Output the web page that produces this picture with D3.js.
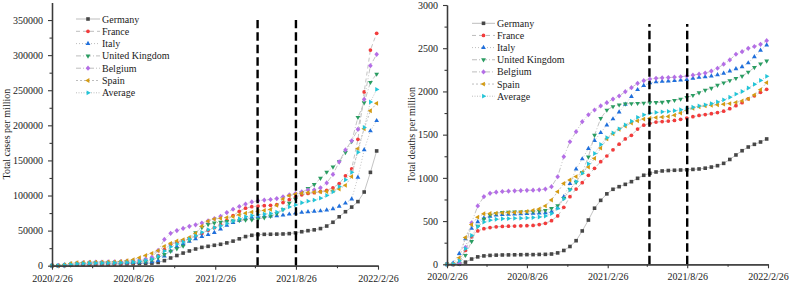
<!DOCTYPE html>
<html lang="en">
<head>
<meta charset="UTF-8">
<title>Total cases and deaths per million</title>
<script src="https://d3js.org/d3.v7.min.js"></script>
<style>
    body { margin: 0; background: #fff; }
    svg text { font-family: "Liberation Serif", "Times New Roman", serif; fill: #1a1a1a; }
</style>
</head>
<body>
<script>
    // categories / ticks
    var countries = ["Germany", "France", "Italy", "United Kingdom", "Belgium", "Spain", "Average"];
    var firstDate = "2020/2/26";   // points every 14 days from here
    var stepDays = 14;
    var xTicks = ["2020/2/26", "2020/8/26", "2021/2/26", "2021/8/26", "2022/2/26"];
    var xMinorTicks = ["2020/5/26", "2020/11/26", "2021/5/26", "2021/11/26"];
    var periodLines = ["2021/6/1", "2021/8/26"];

    // total cases per million
    var casesGermany = [0, 23, 445, 1300, 1800, 2000, 2130, 2200, 2260, 2340, 2400, 2500, 2630, 2850, 3050, 3320, 3680, 4570, 7200, 11000, 14500, 18000, 21000, 23800, 26100, 27600, 29100, 30500, 32500, 35000, 38300, 41500, 43300, 44300, 44700, 44800, 45000, 45200, 45700, 46900, 48400, 49900, 51100, 52900, 56500, 61900, 69700, 76900, 83500, 91300, 105000, 133000, 163500];
    var casesFrance = [0, 30, 380, 1200, 1750, 2000, 2200, 2300, 2400, 2500, 2650, 2800, 3200, 4000, 5300, 7300, 10000, 14500, 23000, 30500, 33300, 35600, 38500, 42000, 46000, 50500, 54200, 58600, 64500, 71500, 77500, 82000, 84000, 85000, 85500, 86000, 87000, 90000, 94000, 98000, 101000, 103000, 104000, 105500, 107500, 111000, 117000, 128000, 138000, 180000, 247500, 307300, 331100];
    var casesItaly = [7, 206, 1230, 2300, 3100, 3550, 3760, 3870, 3940, 3990, 4030, 4090, 4170, 4370, 4640, 5010, 5530, 7190, 13660, 21070, 27180, 31260, 34500, 38130, 41410, 44180, 47160, 52140, 57360, 61260, 64420, 67220, 68920, 69830, 70260, 70530, 70930, 71990, 73370, 74810, 75840, 76800, 77400, 78000, 79300, 81100, 84600, 89100, 95000, 126000, 165000, 192000, 206600];
    var casesUK = [0, 7, 140, 900, 1960, 2950, 3640, 4110, 4300, 4400, 4450, 4520, 4650, 4850, 5230, 6010, 8000, 11600, 16130, 20700, 24340, 28000, 36500, 47100, 54600, 58700, 60900, 62200, 63200, 63900, 64500, 65000, 65400, 66500, 68500, 70500, 74000, 80000, 89000, 95000, 104100, 110000, 115800, 124600, 133400, 140800, 148100, 161300, 177000, 211400, 232200, 261300, 273100];
    var casesBelgium = [0, 27, 430, 2040, 3640, 4420, 4870, 5100, 5240, 5360, 5500, 5910, 6520, 7210, 8030, 9390, 12170, 21740, 37390, 46090, 50000, 53040, 56090, 58260, 60870, 63910, 66960, 70430, 75650, 80430, 84350, 87830, 90870, 92610, 93480, 94350, 95650, 98260, 100870, 103040, 105220, 107830, 108000, 111000, 118000, 130000, 148000, 165000, 178000, 194300, 237100, 285000, 301200];
    var casesSpain = [0, 45, 1000, 3130, 4400, 4650, 4890, 5070, 5160, 5270, 5440, 5960, 7120, 8550, 11460, 14630, 17640, 21430, 27550, 31860, 35230, 37130, 40300, 45990, 56330, 63500, 66460, 67510, 68570, 70040, 72570, 74890, 76370, 77640, 78690, 80170, 86080, 94940, 99790, 101900, 103380, 104220, 104850, 105270, 105700, 106750, 109280, 114560, 127000, 166700, 195000, 220800, 231400];
    var casesAverage = [1, 56, 604, 1812, 2775, 3262, 3582, 3775, 3883, 3977, 4078, 4297, 4715, 5305, 6285, 7610, 9503, 13505, 20822, 26870, 30758, 33838, 37815, 42547, 47552, 51398, 54130, 56897, 60297, 63688, 66940, 69740, 71477, 72647, 73522, 74392, 76443, 80065, 83788, 86608, 89657, 91958, 93525, 96212, 100067, 105258, 112780, 122477, 133083, 161617, 196967, 233233, 251150];

    // total deaths per million
    var deathsGermany = [0, 0, 2.5, 25, 61, 86, 97, 103, 106, 108, 109, 110, 111, 112, 112, 114, 115, 119, 132, 160, 206, 273, 386, 512, 649, 740, 815, 868, 898, 925, 956, 995, 1030, 1053, 1068, 1080, 1085, 1088, 1091, 1094, 1098, 1103, 1112, 1125, 1141, 1168, 1213, 1265, 1314, 1357, 1388, 1415, 1450];
    var deathsFrance = [0, 0, 20, 161, 317, 386, 412, 425, 433, 438, 441, 443, 445, 447, 450, 460, 474, 505, 559, 659, 782, 871, 944, 1030, 1111, 1187, 1253, 1325, 1390, 1450, 1493, 1565, 1610, 1631, 1645, 1652, 1657, 1665, 1677, 1692, 1708, 1722, 1732, 1742, 1755, 1772, 1800, 1835, 1870, 1915, 1950, 1990, 2025];
    var deathsItaly = [0, 14, 124, 293, 415, 491, 535, 556, 570, 576, 579, 582, 583, 587, 589, 593, 596, 610, 652, 782, 933, 1102, 1219, 1339, 1431, 1523, 1610, 1682, 1761, 1850, 1941, 2020, 2067, 2100, 2110, 2116, 2120, 2124, 2130, 2138, 2151, 2162, 2169, 2177, 2192, 2210, 2235, 2262, 2285, 2330, 2400, 2475, 2537];
    var deathsUK = [0, 0, 7, 104, 265, 441, 523, 570, 590, 600, 603, 606, 607, 609, 610, 614, 623, 648, 680, 764, 866, 950, 1063, 1243, 1494, 1688, 1785, 1825, 1845, 1855, 1860, 1863, 1866, 1870, 1872, 1875, 1884, 1897, 1912, 1930, 1955, 1985, 2015, 2038, 2073, 2100, 2126, 2152, 2176, 2224, 2277, 2320, 2352];
    var deathsBelgium = [0, 0, 11, 195, 481, 675, 782, 821, 835, 842, 846, 850, 853, 856, 858, 862, 870, 898, 1013, 1245, 1418, 1534, 1650, 1730, 1785, 1832, 1870, 1912, 1947, 1997, 2043, 2094, 2124, 2144, 2152, 2157, 2160, 2165, 2170, 2178, 2188, 2200, 2212, 2235, 2268, 2315, 2364, 2430, 2460, 2499, 2520, 2545, 2587];
    var deathsSpain = [0, 1, 75, 310, 460, 545, 585, 588, 592, 596, 598, 600, 604, 612, 625, 640, 675, 744, 840, 935, 975, 1015, 1065, 1125, 1225, 1345, 1450, 1510, 1560, 1600, 1635, 1660, 1680, 1690, 1698, 1703, 1710, 1725, 1750, 1780, 1805, 1822, 1832, 1840, 1846, 1853, 1860, 1873, 1890, 1915, 1960, 2020, 2101];
    var deathsAverage = [0, 2.5, 40, 181, 333, 437, 489, 510, 521, 527, 529, 532, 534, 537, 541, 547, 559, 587, 646, 757, 863, 957, 1054, 1163, 1282, 1386, 1464, 1520, 1567, 1613, 1655, 1700, 1729, 1748, 1757, 1764, 1769, 1777, 1788, 1802, 1817, 1832, 1845, 1859, 1879, 1903, 1933, 1969, 1999, 2040, 2082, 2127, 2175];

    var colors = ["#474747", "#f23c3c", "#1f6fdc", "#2a9d62", "#b46ee6", "#d49b12", "#22c5d8"];
    var shapes = ["square", "circle", "up", "down", "diamond", "left", "right"];
    var dashes = [null, "4,3", "1,2", "5,2,1,2", "5,2,1,2,1,2", "2,2", "1,1.5"];

    var width = 790, height = 284;
    var parse = d3.timeParse("%Y/%m/%d");
    var start = parse(firstDate);

    var svg = d3.select("body").append("svg")
        .attr("width", width)
        .attr("height", height)
        .attr("viewBox", [0, 0, width, height]);

    function shapePath(shape) {
        if (shape == "square") return "M-1.8,-1.8h3.6v3.6h-3.6Z";
        if (shape == "circle") return d3.symbol(d3.symbolCircle, 11)();
        if (shape == "diamond") return "M0,-2.6L2.3,0L0,2.6L-2.3,0Z";
        return d3.symbol(d3.symbolTriangle, 10)();
    }

    function shapeRotate(shape) {
        if (shape == "down") return 180;
        if (shape == "left") return -90;
        if (shape == "right") return 90;
        return 0;
    }

    function drawMarker(g, i, cx, cy) {
        g.append("path")
            .attr("d", shapePath(shapes[i]))
            .attr("transform", "translate(" + cx + "," + cy + ") rotate(" + shapeRotate(shapes[i]) + ")")
            .attr("fill", colors[i]);
    }

    function drawPanel(cfg) {
        var g = svg.append("g");

        var x = d3.scaleTime()
            .domain([parse(xTicks[0]), parse(xTicks[xTicks.length - 1])])
            .range([cfg.x0, cfg.x1]);

        var y = d3.scaleLinear()
            .domain([0, cfg.yMax])
            .range([cfg.y0, cfg.y1]);

        // series: line first, then markers
        cfg.series.forEach(function (values, i) {
            var pts = values.map(function (v, k) {
                return { date: d3.timeDay.offset(start, k * stepDays), value: v };
            });

            var line = d3.line()
                .x(function (d) { return x(d.date) })
                .y(function (d) { return y(d.value) });

            g.append("path")
                .attr("d", line(pts))
                .attr("fill", "none")
                .attr("stroke", "#c4c4c4")
                .attr("stroke-width", 1)
                .attr("stroke-dasharray", dashes[i]);

            var mg = g.append("g");
            pts.forEach(function (d) {
                drawMarker(mg, i, x(d.date), y(d.value));
            });
        });

        // the two vertical dashed lines
        periodLines.forEach(function (d) {
            g.append("line")
                .attr("x1", x(parse(d)))
                .attr("x2", x(parse(d)))
                .attr("y1", y(0))
                .attr("y2", y(cfg.dashTop))
                .attr("stroke", "#000")
                .attr("stroke-width", 2.4)
                .attr("stroke-dasharray", "8.5,4");
        });

        // axes
        var yMajor = d3.range(0, cfg.yMax + 1, cfg.yStep).filter(function (v) { return v <= cfg.yMax });
        var yMinor = d3.range(cfg.yStep / 2, cfg.yMax, cfg.yStep);

        var yAxis = g.append("g")
            .attr("transform", "translate(" + cfg.x0 + ",0)")
            .call(d3.axisLeft(y).tickValues(yMajor).tickSize(4).tickSizeOuter(0).tickPadding(5)
                .tickFormat(d3.format("d")));
        g.append("g")
            .attr("transform", "translate(" + cfg.x0 + ",0)")
            .call(d3.axisLeft(y).tickValues(yMinor).tickSize(2.5).tickSizeOuter(0).tickFormat(""));

        var xAxis = g.append("g")
            .attr("transform", "translate(0," + cfg.y0 + ")")
            .call(d3.axisBottom(x).tickValues(xTicks.map(parse)).tickSize(4).tickSizeOuter(0).tickPadding(5)
                .tickFormat(d3.timeFormat("%Y/%-m/%-d")));
        g.append("g")
            .attr("transform", "translate(0," + cfg.y0 + ")")
            .call(d3.axisBottom(x).tickValues(xMinorTicks.map(parse)).tickSize(2.5).tickSizeOuter(0).tickFormat(""));

        g.selectAll(".domain").attr("stroke", "#3a3a3a").attr("stroke-width", 1.3);
        g.selectAll(".tick line").attr("stroke", "#3a3a3a").attr("stroke-width", 1.1);
        g.selectAll(".tick text")
            .attr("font-size", "10px")
            .attr("font-family", "Liberation Serif, serif")
            .attr("fill", "#1a1a1a");

        // axis title
        g.append("text")
            .attr("transform", "translate(" + cfg.titleX + "," + ((cfg.y0 + cfg.y1) / 2) + ") rotate(-90)")
            .attr("text-anchor", "middle")
            .attr("font-size", "10px")
            .text(cfg.title);

        // legend
        var leg = g.append("g");
        countries.forEach(function (name, i) {
            var ly = cfg.legY + i * cfg.legStep;
            leg.append("line")
                .attr("x1", cfg.legX)
                .attr("x2", cfg.legX + cfg.legLen)
                .attr("y1", ly)
                .attr("y2", ly)
                .attr("stroke", "#bdbdbd")
                .attr("stroke-width", 1)
                .attr("stroke-dasharray", dashes[i]);
            drawMarker(leg, i, cfg.legX + cfg.legLen / 2, ly);
            leg.append("text")
                .attr("x", cfg.legX + cfg.legLen + 2)
                .attr("y", ly + 3.5)
                .attr("font-size", "10px")
                .text(name);
        });
    }

    drawPanel({
        x0: 52, x1: 378, y0: 265.7, y1: 2.5,
        yMax: 375000, yStep: 50000, dashTop: 350000,
        title: "Total cases per million", titleX: 9.5,
        legX: 76, legLen: 24, legY: 19, legStep: 12.3,
        series: [casesGermany, casesFrance, casesItaly, casesUK, casesBelgium, casesSpain, casesAverage]
    });

    drawPanel({
        x0: 447, x1: 768, y0: 264.3, y1: 5,
        yMax: 3000, yStep: 500, dashTop: 2780,
        title: "Total deaths per million", titleX: 415,
        legX: 472, legLen: 23, legY: 23.3, legStep: 12.15,
        series: [deathsGermany, deathsFrance, deathsItaly, deathsUK, deathsBelgium, deathsSpain, deathsAverage]
    });
</script>
</body>
</html>
